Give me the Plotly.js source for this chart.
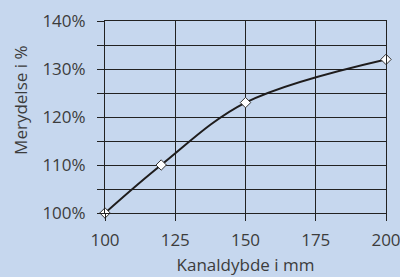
<!DOCTYPE html>
<html><head><meta charset="utf-8">
<script src="https://cdn.plot.ly/plotly-3.0.1.min.js"></script>
<style>html,body{margin:0;padding:0;background:#c6d7ee;}</style>
</head><body>
<div id="chart" style="width:400px;height:277px;"></div>
<script>
var depthMm = [100, 120, 150, 200];
var increasePct = [100, 110, 123, 132];
var xTicks = [100, 125, 150, 175, 200];
var yTickVals = [100, 105, 110, 115, 120, 125, 130, 135, 140];
var yTickText = ['100%', '', '110%', '', '120%', '', '130%', '', '140%'];
var xTitle = 'Kanaldybde i mm';
var yTitle = 'Merydelse i %';

var bg = '#c6d7ee';
var txt = '#3c3c3c';
var trace = {
  x: depthMm, y: increasePct, type: 'scatter', mode: 'lines+markers',
  line: {shape: 'spline', smoothing: 1, color: '#1e1c1c', width: 2},
  marker: {symbol: 'diamond', size: 8, color: '#ffffff', line: {color: '#333', width: 1}},
  cliponaxis: false, hoverinfo: 'none'
};
var layout = {
  width: 400, height: 277,
  margin: {l: 105, r: 14, t: 21, b: 64},
  paper_bgcolor: bg, plot_bgcolor: bg,
  showlegend: false,
  font: {family: 'Open Sans, sans-serif', color: txt, size: 17},
  xaxis: {
    range: [100, 200], tickvals: xTicks, ticktext: xTicks.map(String),
    showgrid: true, gridcolor: '#222', gridwidth: 1,
    ticks: 'outside', ticklen: 7, tickcolor: '#222',
    showline: true, linecolor: '#222', mirror: true, zeroline: false,
    tickfont: {size: 17, color: txt}, ticklabelstandoff: 5, ticklabeloverflow: 'allow',
    title: {text: xTitle, font: {size: 17, color: txt}, standoff: 8}
  },
  yaxis: {
    range: [100, 140], tickvals: yTickVals, ticktext: yTickText,
    showgrid: true, gridcolor: '#222', gridwidth: 1,
    ticks: 'outside', ticklen: 7, tickcolor: '#222',
    showline: true, linecolor: '#222', mirror: true, zeroline: false,
    tickfont: {size: 17, color: txt}, ticklabelstandoff: 8, ticklabeloverflow: 'allow'
  },
  annotations: [{
    text: yTitle, xref: 'paper', yref: 'paper', x: -0.299, y: 0.589,
    xanchor: 'center', yanchor: 'middle', textangle: -90, showarrow: false,
    font: {size: 17, color: txt}
  }]
};
Plotly.newPlot('chart', [trace], layout, {displayModeBar: false, staticPlot: true});
</script>
</body></html>
